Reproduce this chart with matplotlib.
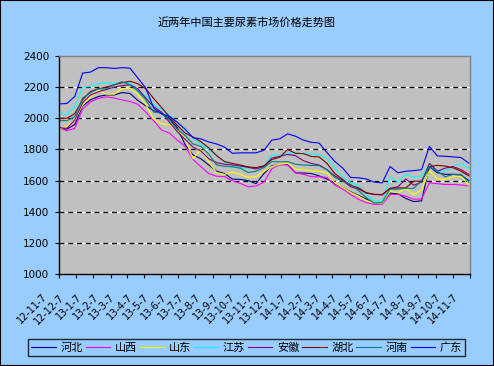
import numpy as np
import pandas as pd
import matplotlib
matplotlib.use("Agg")
import matplotlib.pyplot as plt
from matplotlib.patches import Rectangle
from matplotlib.transforms import ScaledTranslation

plt.rcParams['font.family'] = ['Noto Sans CJK SC', 'DejaVu Sans']

title = '近两年中国主要尿素市场价格走势图'

# bi-weekly prices (yuan/t)
dates = pd.date_range('2012-11-07', periods=53, freq='14D')

hebei = [1935, 1930, 1960, 2080, 2118, 2140, 2150, 2150, 2165, 2160, 2115, 2080, 2050, 2030,
         2000, 1940, 1830, 1765, 1740, 1700, 1660, 1645, 1610, 1607, 1600, 1580, 1645, 1695,
         1702, 1705, 1650, 1648, 1645, 1630, 1610, 1580, 1555, 1528, 1505, 1480, 1455, 1455,
         1520, 1515, 1485, 1465, 1470, 1690, 1650, 1640, 1640, 1635, 1600]
shanxi = [1940, 1920, 1935, 2060, 2105, 2128, 2138, 2130, 2118, 2108, 2090, 2040, 1985, 1925,
          1905, 1860, 1820, 1735, 1690, 1645, 1628, 1625, 1598, 1582, 1560, 1565, 1590, 1675,
          1703, 1700, 1650, 1640, 1625, 1624, 1620, 1570, 1545, 1510, 1480, 1458, 1447, 1447,
          1510, 1511, 1500, 1480, 1482, 1585, 1580, 1575, 1575, 1572, 1565]
shandong = [1927, 1950, 1990, 2085, 2140, 2178, 2155, 2155, 2190, 2195, 2155, 2090, 1995, 1965,
            1960, 1925, 1870, 1740, 1800, 1720, 1650, 1640, 1655, 1640, 1620, 1625, 1660, 1690,
            1705, 1712, 1672, 1670, 1662, 1660, 1650, 1585, 1555, 1525, 1500, 1472, 1455, 1455,
            1530, 1522, 1550, 1510, 1540, 1665, 1610, 1607, 1625, 1628, 1570]
jiangsu = [2034, 2025, 2076, 2200, 2204, 2222, 2226, 2222, 2230, 2226, 2180, 2145, 2090, 2058,
           2020, 1975, 1925, 1870, 1835, 1800, 1760, 1720, 1695, 1681, 1680, 1680, 1690, 1765,
           1758, 1775, 1777, 1775, 1770, 1768, 1740, 1680, 1620, 1590, 1565, 1510, 1470, 1465,
           1625, 1590, 1640, 1620, 1630, 1700, 1665, 1660, 1690, 1710, 1680]
anhui = [1940, 1935, 1990, 2100, 2150, 2170, 2185, 2200, 2210, 2215, 2190, 2130, 2075, 2040,
         1975, 1915, 1865, 1815, 1790, 1740, 1715, 1705, 1700, 1693, 1685, 1675, 1690, 1745,
         1755, 1768, 1760, 1728, 1710, 1700, 1670, 1630, 1600, 1560, 1545, 1520, 1510, 1508,
         1550, 1560, 1610, 1570, 1590, 1710, 1660, 1680, 1690, 1670, 1640]
hubei = [2000, 2000, 2030, 2120, 2172, 2190, 2200, 2215, 2228, 2238, 2222, 2190, 2128, 2070,
         2010, 1955, 1905, 1880, 1850, 1810, 1760, 1722, 1710, 1700, 1688, 1683, 1695, 1735,
         1750, 1800, 1775, 1773, 1755, 1752, 1710, 1645, 1607, 1570, 1553, 1522, 1512, 1510,
         1550, 1553, 1553, 1596, 1596, 1690, 1698, 1693, 1682, 1660, 1630]
henan = [1985, 1985, 2010, 2130, 2165, 2190, 2188, 2215, 2235, 2215, 2175, 2120, 2040, 2035,
         1990, 1930, 1890, 1835, 1820, 1770, 1700, 1692, 1688, 1680, 1652, 1660, 1683, 1722,
         1720, 1722, 1705, 1700, 1697, 1696, 1670, 1620, 1595, 1575, 1535, 1490, 1455, 1460,
         1545, 1545, 1550, 1550, 1600, 1690, 1660, 1625, 1640, 1640, 1590]
guangdong = [2092, 2095, 2140, 2290, 2297, 2325, 2325, 2320, 2325, 2322, 2259, 2195, 2067, 2030,
             2013, 1975, 1930, 1875, 1868, 1848, 1835, 1815, 1775, 1778, 1778, 1778, 1795, 1860,
             1868, 1900, 1885, 1860, 1846, 1841, 1780, 1722, 1680, 1620, 1618, 1610, 1590, 1585,
             1690, 1650, 1660, 1664, 1670, 1820, 1758, 1756, 1752, 1748, 1712]

names = ['河北', '山西', '山东', '江苏', '安徽', '湖北', '河南', '广东']
series = [hebei, shanxi, shandong, jiangsu, anhui, hubei, henan, guangdong]
colors = ['#000080', '#FF00FF', '#FFFF00', '#00FFFF', '#800080', '#800000', '#008080', '#0000FF']

tick_dates = pd.date_range('2012-11-07', periods=25, freq=pd.DateOffset(months=1))
tick_labels = ['12-11-7', '12-12-7', '13-1-7', '13-2-7', '13-3-7', '13-4-7', '13-5-7',
               '13-6-7', '13-7-7', '13-8-7', '13-9-7', '13-10-7', '13-11-7', '13-12-7',
               '14-1-7', '14-2-7', '14-3-7', '14-4-7', '14-5-7', '14-6-7', '14-7-7',
               '14-8-7', '14-9-7', '14-10-7', '14-11-7']
y_ticks = [1000, 1200, 1400, 1600, 1800, 2000, 2200, 2400]

bg = '#99CCFF'
fig = plt.figure(figsize=(4.94, 3.66), dpi=100, facecolor=bg)
ax = fig.add_axes([59/494, 1 - 274/366, 411/494, 218/366], facecolor='#C0C0C0')

# dashed grid: white base with black dashes
for v in y_ticks[1:-1]:
    ax.axhline(v, color='white', lw=0.9, zorder=1)
    ax.axhline(v, color='black', lw=0.9, ls=(0, (4, 3)), zorder=1.1)

for name, vals, c in zip(names, series, colors):
    ax.plot(dates, vals, color=c, lw=0.8, label=name, zorder=2)

ax.set_xlim(tick_dates[0], tick_dates[-1])
ax.set_ylim(1000, 2400)
ax.set_yticks(y_ticks)
ax.set_xticks(tick_dates)
ax.set_xticklabels(tick_labels, rotation=45, ha='right', va='top',
                   fontsize=7, fontfamily='DejaVu Sans')
for lab in ax.get_yticklabels():
    lab.set_fontfamily('DejaVu Sans')
    lab.set_fontsize(7.5)
ax.tick_params(axis='x', direction='out', length=3, width=0.8, pad=10)
ax.tick_params(axis='y', direction='out', length=3, width=0.8, pad=4)
for lab in ax.get_xticklabels():
    lab.set_transform(lab.get_transform() + ScaledTranslation(-7/72, 0, fig.dpi_scale_trans))

for s in ['left', 'bottom']:
    ax.spines[s].set_color('black')
    ax.spines[s].set_linewidth(1.0)
for s in ['top', 'right']:
    ax.spines[s].set_color('#808080')
    ax.spines[s].set_linewidth(1.0)

fig.text(247/494, 1 - 22/366, title, ha='center', va='center', fontsize=8)

leg = fig.legend(loc='lower left', bbox_to_anchor=(28/494, 1 - 356/366, 437/494, 17/366),
                 mode='expand', ncol=8, fontsize=8, frameon=True, fancybox=False,
                 handlelength=2.2, handletextpad=0.4, columnspacing=0.3,
                 borderpad=0.3, borderaxespad=0)
leg.get_frame().set_facecolor(bg)
leg.get_frame().set_edgecolor('black')
leg.get_frame().set_linewidth(1.0)

fig.patches.append(Rectangle((0, 0), 1, 1, transform=fig.transFigure, fill=False,
                             edgecolor='black', lw=1.5))

fig.savefig('out.png', dpi=100, facecolor=bg)
